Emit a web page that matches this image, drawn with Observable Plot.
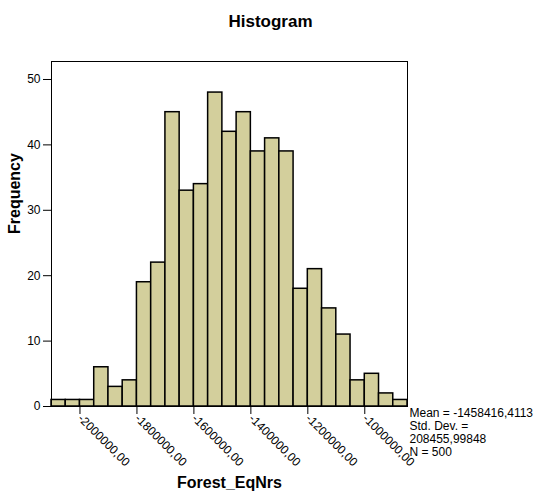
<!DOCTYPE html>
<html>
<head>
<meta charset="utf-8">
<script src="https://cdn.jsdelivr.net/npm/d3@7"></script>
<script src="https://cdn.jsdelivr.net/npm/@observablehq/plot@0.6"></script>
<style>
  html, body { margin: 0; padding: 0; background: #fff; }
  svg { display: block; }
</style>
</head>
<body>
<div id="chart"></div>
<script>
// Histogram bins (lower edges) and frequencies
const binStarts = [-2100000, -2050000, -2000000, -1950000, -1900000, -1850000, -1800000, -1750000, -1700000, -1650000,
                   -1600000, -1550000, -1500000, -1450000, -1400000, -1350000, -1300000, -1250000, -1200000, -1150000,
                   -1100000, -1050000, -1000000, -950000, -900000];
const binWidth = 50000;
const counts = [1, 1, 1, 6, 3, 4, 19, 22, 45, 33, 34, 48, 42, 45, 39, 41, 39, 18, 21, 15, 11, 4, 5, 2, 1];
const xTicks = [-2000000, -1800000, -1600000, -1400000, -1200000, -1000000];
const yTicks = [0, 10, 20, 30, 40, 50];
const titleText = "Histogram";
const xLabel = "Forest_EqNrs";
const yLabel = "Frequency";
const statsLines = ["Mean = -1458416,4113", "Std. Dev. =", "208455,99848", "N = 500"];

const bins = binStarts.map((s, i) => ({x1: s, x2: s + binWidth, count: counts[i]}));
const fmt = d => d.toFixed(2).replace(".", ",");

const chart = Plot.plot({
  width: 533,
  height: 502,
  marginLeft: 51,
  marginTop: 61,
  marginRight: 126,
  marginBottom: 96,
  style: {fontFamily: "Arial, 'Liberation Sans', sans-serif", fontSize: "12px", color: "#000", background: "#fff"},
  x: {domain: [-2100000, -850000]},
  y: {domain: [0, 52.75]},
  marks: [
    Plot.rectY(bins, {x1: "x1", x2: "x2", y: "count", fill: "#d3cf9c", stroke: "#000", strokeWidth: 1.5, inset: 0}),
    Plot.frame({stroke: "#000", strokeWidth: 1}),
    Plot.axisY({ticks: yTicks, tickSize: 8, tickPadding: 3, label: null, fontSize: 12, stroke: "#000"}),
    Plot.axisX({ticks: xTicks, tickSize: 8, tickPadding: 2, tickRotate: 45, tickFormat: fmt, label: null, fontSize: 12, stroke: "#000"}),
    Plot.text([titleText], {text: d => d, frameAnchor: "top", dx: 41, dy: -47, fontSize: 17, fontWeight: "bold"}),
    Plot.text([xLabel], {text: d => d, frameAnchor: "bottom", dy: 81, fontSize: 16, fontWeight: "bold"}),
    Plot.text([yLabel], {text: d => d, frameAnchor: "left", dx: -37, rotate: -90, fontSize: 16, fontWeight: "bold"}),
    Plot.text([statsLines.join("\n")], {text: d => d, frameAnchor: "bottom-right", textAnchor: "start", lineAnchor: "top", dx: 2, dy: 1, fontSize: 12, lineHeight: 1.08})
  ]
});
document.getElementById("chart").appendChild(chart);
</script>
</body>
</html>
